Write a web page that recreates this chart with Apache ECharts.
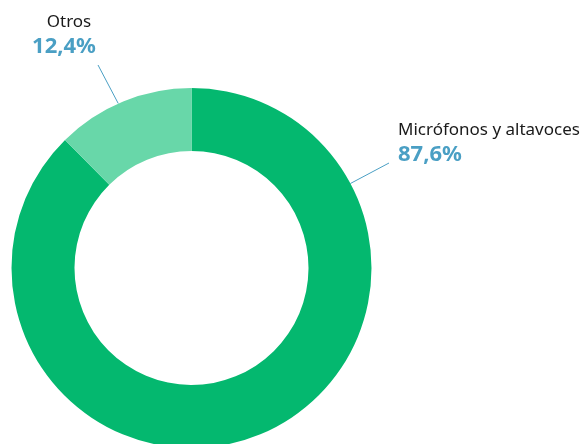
<!DOCTYPE html>
<html>
<head>
<meta charset="utf-8">
<script src="https://cdn.jsdelivr.net/npm/echarts@6/dist/echarts.min.js"></script>
<style>html,body{margin:0;padding:0;background:#fff}#c{width:582px;height:444px}</style>
</head>
<body>
<div id="c"></div>
<script>
var categories = ['Micrófonos y altavoces', 'Otros'];
var values = [87.6, 12.4];
var valueLabels = ['87,6%', '12,4%'];

var colors = ['#04B86F', '#68D7A9'];
var CX = 191.5, CY = 268, R_IN = 117, R_OUT = 180;
var labelCfg = [
  {x: 398, y: 118, align: 'left', ang: 28, end: [389, 163], pad: 0},
  {x: 64, y: 10, align: 'center', ang: 114, end: [98, 65], pad: 10}
];

var chart = echarts.init(document.getElementById('c'), null, {renderer: 'canvas'});
chart.setOption({
  animation: false,
  series: [{
    type: 'pie',
    center: [CX, CY],
    radius: [R_IN, R_OUT],
    startAngle: 90,
    clockwise: true,
    color: colors,
    data: categories.map(function (n, i) {
      return {name: n, value: values[i], itemStyle: {color: colors[i]}};
    }),
    label: {
      show: true,
      position: 'outside',
      formatter: function (p) {
        return '{' + (p.dataIndex === 1 ? 'm' : 'n') + '|' + p.name + '}\n{v|' + valueLabels[p.dataIndex] + '}';
      },
      rich: {
        n: {fontFamily: 'Noto Sans', fontSize: 17, color: '#1a1a1a', lineHeight: 24},
        m: {fontFamily: 'Noto Sans', fontSize: 17, color: '#1a1a1a', lineHeight: 24, padding: [0, 0, 0, 10]},
        v: {fontFamily: 'Noto Sans', fontSize: 22, fontWeight: 'bold', color: '#4A9FC4', lineHeight: 26}
      }
    },
    labelLine: {show: true, length: 10, length2: 10, lineStyle: {color: '#4A9FC4', width: 1}},
    labelLayout: function (p) {
      var c = labelCfg[p.dataIndex];
      var a = c.ang * Math.PI / 180;
      var sx = CX + R_OUT * Math.cos(a), sy = CY - R_OUT * Math.sin(a);
      return {
        x: c.x, y: c.y, align: c.align, verticalAlign: 'top',
        labelLinePoints: [[sx, sy], [sx, sy], c.end]
      };
    }
  }]
});
</script>
</body>
</html>
